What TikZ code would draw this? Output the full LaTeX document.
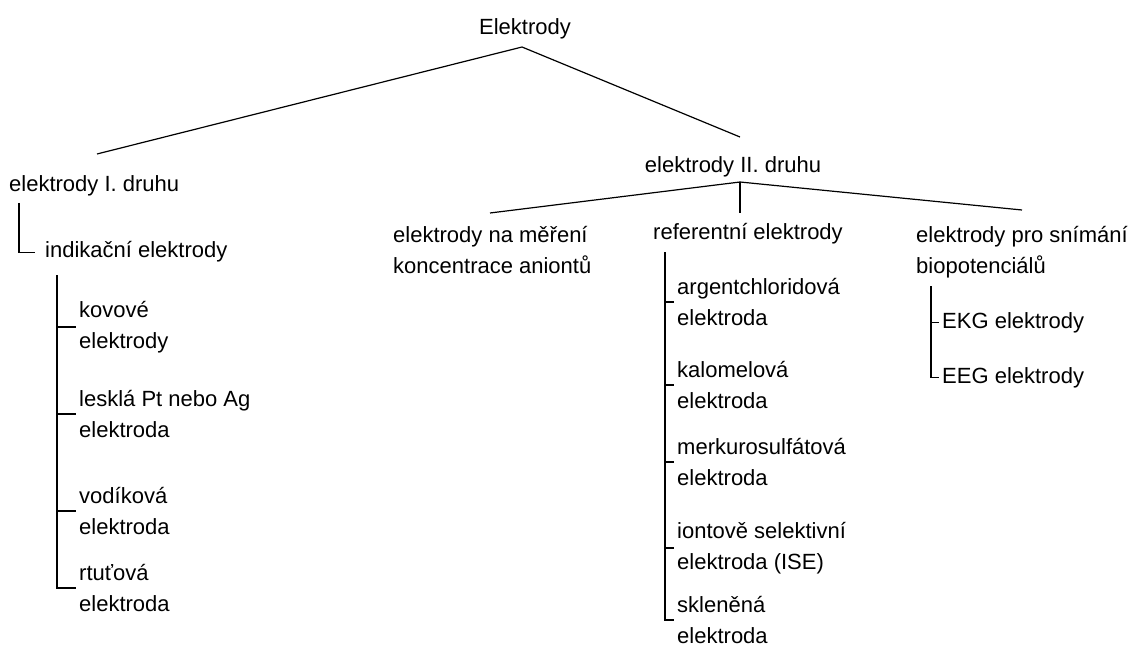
\documentclass[tikz,border=0pt]{standalone}
\usepackage{fontspec}
\setmainfont{Liberation Sans}
\begin{document}
\begin{tikzpicture}[
  x=1pt, y=-1pt,
  every node/.style={inner xsep=3pt, inner ysep=0pt,
    font=\fontsize{22}{31}\selectfont, text=black},
  lbl/.style={anchor=base west},
  lbl2/.style={anchor=west, align=left},
  branch/.style={draw=black, line width=1.2pt},
]
\useasboundingbox (0,0) rectangle (1131,652);

% root
\node[anchor=base] (root) at (525,35) {Elektrody};
\coordinate (rootfork) at (522,47);
\coordinate (e1in) at (97,154);
\coordinate (e2in) at (740,137);
\draw[branch] (e1in) -- (rootfork) -- (e2in);

% first kind
\node[lbl] (e1) at (6,192) {elektrody I. druhu};
\node[lbl] (ind) at (42,258) {indikační elektrody};
\coordinate (e1out) at (19,203);
\draw[branch] (e1out) |- ([xshift=-7pt]ind.west);

\node[lbl2] (k1) at (76,327) {kovové\\elektrody};
\node[lbl2] (k2) at (76,414) {lesklá Pt nebo Ag\\elektroda};
\node[lbl2] (k3) at (76,511) {vodíková\\elektroda};
\node[lbl2] (k4) at (76,588) {rtuťová\\elektroda};
\coordinate (indout) at (57,275);
\draw[branch] (indout) |- (k4.west);
\foreach \n in {k1,k2,k3}
  \draw[branch] (indout |- \n.west) -- (\n.west);

% second kind
\node[anchor=base] (e2) at (733,173) {elektrody II. druhu};
\coordinate (e2fork) at (740,182);
\coordinate (a1in) at (490,213);
\coordinate (a2in) at (740,213);
\coordinate (a3in) at (1022,210);
\draw[branch] (a1in) -- (e2fork) -- (a3in);
\draw[branch] (e2fork) -- (a2in);

\node[lbl2] (a1) at (390,250) {elektrody na měření\\koncentrace aniontů};
\node[lbl] (a2) at (650,240) {referentní elektrody};
\node[lbl2] (a3) at (913,252) {elektrody pro snímání\\biopotenciálů};

% reference electrodes
\node[lbl2] (r1) at (674,302) {argentchloridová\\elektroda};
\node[lbl2] (r2) at (674,385) {kalomelová\\elektroda};
\node[lbl2] (r3) at (674,462) {merkurosulfátová\\elektroda};
\node[lbl2] (r4) at (674,548) {iontově selektivní\\elektroda (ISE)};
\node[lbl2] (r5) at (674,620) {skleněná\\elektroda};
\coordinate (a2out) at (665,252);
\draw[branch] (a2out) |- (r5.west);
\foreach \n in {r1,r2,r3,r4}
  \draw[branch] (a2out |- \n.west) -- (\n.west);

% biopotential electrodes
\node[lbl] (b1) at (939,328) {EKG elektrody};
\node[lbl] (b2) at (939,383) {EEG elektrody};
\coordinate (a3out) at (931,286);
\draw[branch] (a3out) |- (b2.west);
\draw[branch] (a3out |- b1.west) -- (b1.west);
\end{tikzpicture}
\end{document}
